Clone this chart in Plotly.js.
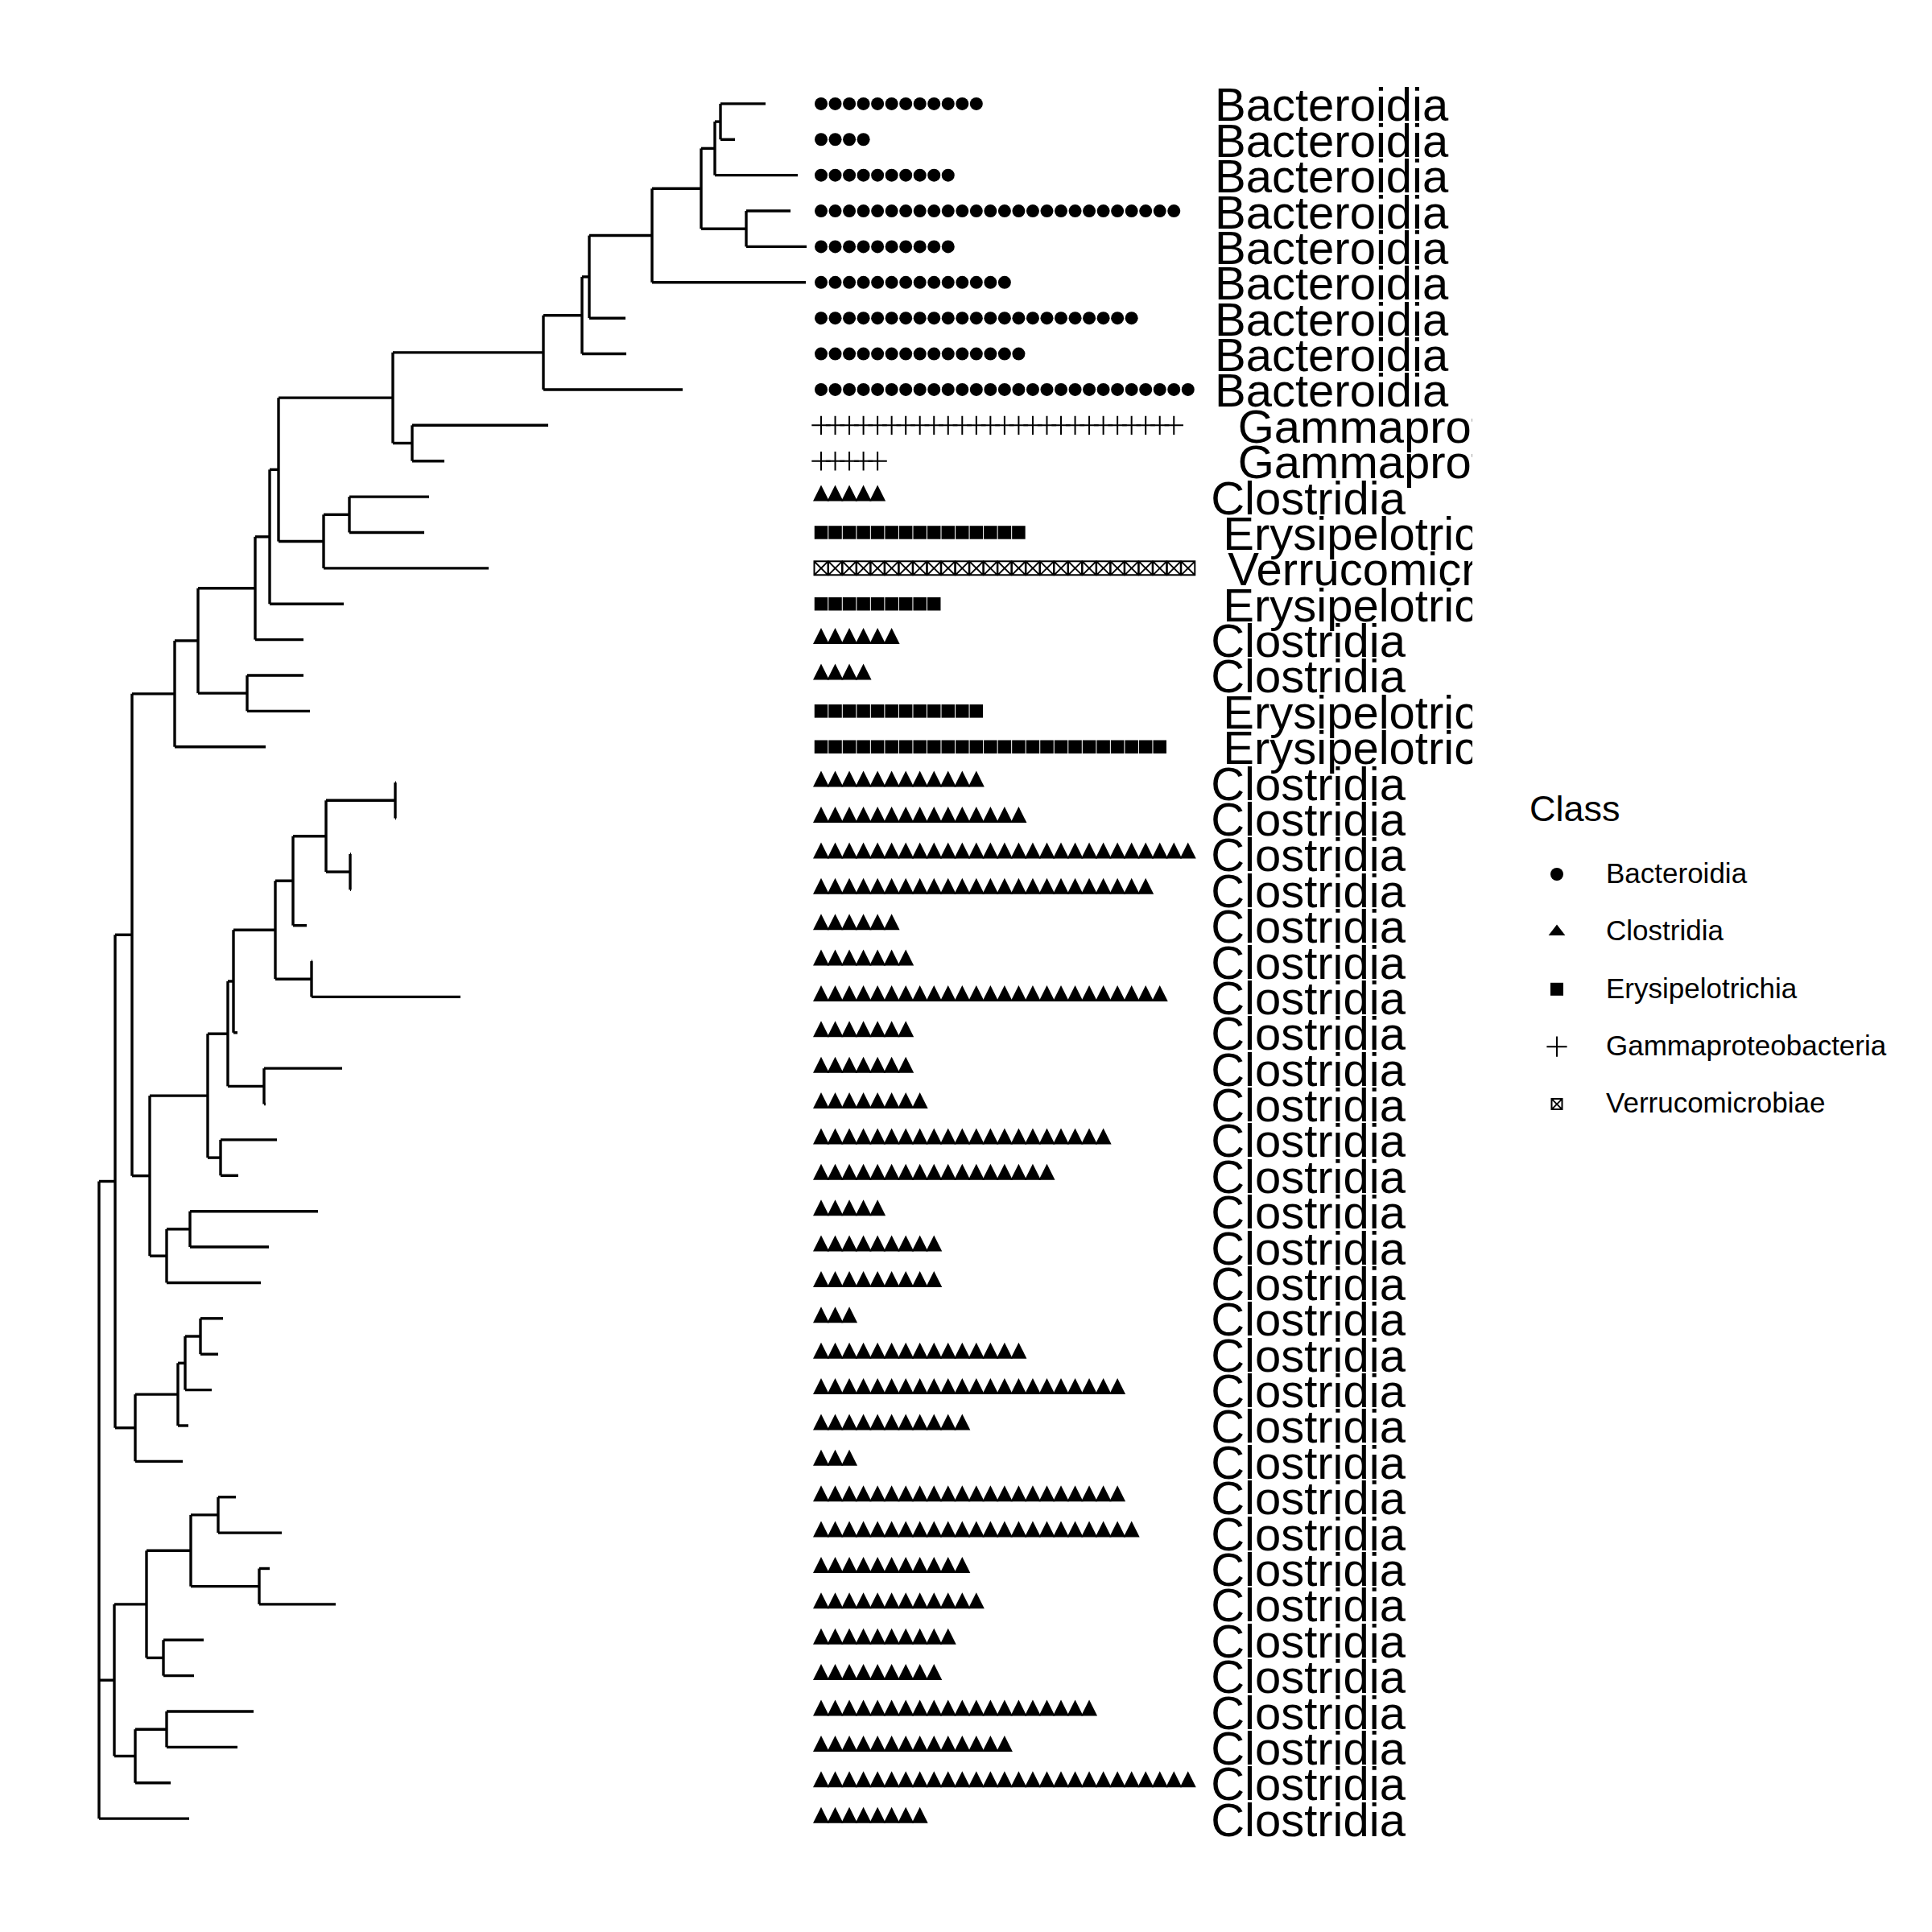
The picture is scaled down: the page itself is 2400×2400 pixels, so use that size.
<!DOCTYPE html>
<html><head><meta charset="utf-8">
<script src="https://cdn.plot.ly/plotly-3.0.1.min.js"></script>
<style>html,body{margin:0;padding:0;background:#fff}</style>
</head><body><div id="chart" style="width:2400px;height:2400px"></div>
<script>
// ---------------- DATA ----------------
// Phylogenetic tree as an edge list (parent, child, branch length)
const edgeParent = ["root","root","root","AK","AK","AF","AF","Q","Q","P","P","N","N","M","M","L","L","I","I","G","G","F","F","E","E","D","D","C","C","B","B","A","A","C2","C2","H","H","K","K","J","J","O","O","AE","AE","AB","AB","Y","Y","X","X","W","W","U","U","T","T","R","R","S","S","V","V","Z","Z","AA","AA","AD","AD","AC","AC","AJ","AJ","AI","AI","AH","AH","AG","AG","AS","AS","AP","AP","AN","AN","AL","AL","AM","AM","AO","AO","AR","AR","AQ","AQ"];
const edgeChild = ["AK","AS","t48","AF","AJ","Q","AE","P","t18","N","O","M","t15","L","t14","I","K","G","H","F","t08","E","t07","D","t06","C","t05","B","C2","A","t02","t00","t01","t03","t04","t09","t10","J","t13","t11","t12","t16","t17","AB","AD","Y","AA","X","Z","W","t26","U","V","T","t23","R","S","t19","t20","t21","t22","t24","t25","t27","t28","t29","t30","AC","t33","t31","t32","AI","t38","AH","t37","AG","t36","t34","t35","AP","AR","AN","AO","AL","AM","t39","t40","t41","t42","t43","t44","AQ","t47","t45","t46"];
const edgeLength = [0.20,0.19,1.12, 0.21,0.25, 0.53,0.22, 0.29,1.13, 0.71,0.61, 0.18,0.60, 0.11,0.92, 1.42,0.56, 1.87,0.24, 0.48,1.73, 0.09,0.55, 0.78,0.45, 0.61,1.91, 0.17,0.56, 0.07,1.03, 0.56,0.18, 0.55,0.75, 1.69,0.40, 0.32,2.05, 0.99,0.93, 0.70,0.78, 0.72,0.21, 0.25,0.16, 0.07,0.45, 0.52,0.05, 0.22,0.45, 0.41,0.17, 0.86,0.30, 0.01,0.01, 0.01,0.01, 0.01,1.85, 0.97,0.02, 0.70,0.22, 0.29,1.17, 1.59,0.98, 0.53,0.59, 0.09,0.13, 0.19,0.33, 0.28,0.22, 0.40,0.26, 0.55,0.21, 0.34,0.85, 0.22,0.79, 0.13,0.95, 0.50,0.38, 0.39,0.44, 1.08,0.88];

// Tips t00..t48 (top to bottom): class and count
const tipClass = [
  "Bacteroidia","Bacteroidia","Bacteroidia","Bacteroidia","Bacteroidia","Bacteroidia","Bacteroidia","Bacteroidia","Bacteroidia",
  "Gammaproteobacteria","Gammaproteobacteria",
  "Clostridia","Erysipelotrichia","Verrucomicrobiae","Erysipelotrichia",
  "Clostridia","Clostridia","Erysipelotrichia","Erysipelotrichia",
  "Clostridia","Clostridia","Clostridia","Clostridia","Clostridia","Clostridia","Clostridia","Clostridia","Clostridia","Clostridia",
  "Clostridia","Clostridia","Clostridia","Clostridia","Clostridia","Clostridia","Clostridia","Clostridia","Clostridia","Clostridia",
  "Clostridia","Clostridia","Clostridia","Clostridia","Clostridia","Clostridia","Clostridia","Clostridia","Clostridia","Clostridia"];
const tipCount = [12,4,10,26,10,14,23,15,27, 26,5, 5,15,27,9, 6,4,12,25, 12,15,27,24, 6,7,25,7,7,8,21,17,5,9,9,3, 15,22,11,3,22,23,11,12,10,9,20,14,27,8];

const classNames = ["Bacteroidia","Clostridia","Erysipelotrichia","Gammaproteobacteria","Verrucomicrobiae"];

// ---------------- STYLES / LAYOUT CONSTANTS ----------------
const W = 2400, H = 2400;
const ROW0_PX = 128.9, ROW_PX = 44.38;          // row centres
const TREE_ROOT_PX = 123, TREE_UNIT_PX = 100, TREE_RIGHT_PX = 1008;
const DOT0_PX = 1020, DOT_STEP_PX = 17.53, DOT_RIGHT_PX = 1488;
const LAB_ANCHOR_PX = 1480, LAB_CLIP_PX = 1829, LAB_FONT = 58, LAB_SHIFT_PX = 7;
const FONT = '"Liberation Sans", Arial, Helvetica, sans-serif';

const dotStyle = {
  "Bacteroidia":        {symbol:"circle", size:16, lw:0, shift:0},
  "Clostridia":         {symbol:"arrow-up", size:20, lw:0, shift:14.5},
  "Erysipelotrichia":   {symbol:"square", size:16.5, lw:0, shift:0},
  "Gammaproteobacteria":{symbol:"cross-thin-open", size:16.7, lw:2, shift:0},
  "Verrucomicrobiae":   {symbol:"square-x-open", size:17, lw:2, shift:0}
};
const legendStyle = {
  "Bacteroidia":        {symbol:"circle", size:16, lw:0},
  "Clostridia":         {symbol:"triangle-up", size:18, lw:0},
  "Erysipelotrichia":   {symbol:"square", size:16, lw:0},
  "Gammaproteobacteria":{symbol:"cross-thin-open", size:18, lw:2},
  "Verrucomicrobiae":   {symbol:"square-x-open", size:13, lw:2}
};

// ---------------- TREE LAYOUT ----------------
const children = {}, blen = {};
edgeParent.forEach((p, i) => { (children[p] = children[p] || []).push(edgeChild[i]); blen[edgeChild[i]] = edgeLength[i]; });
const depth = {root: 0}, ypos = {}, tipOrder = [];
function walk(n) {
  const ch = children[n];
  if (!ch) { ypos[n] = tipOrder.length; tipOrder.push(n); return; }
  ch.forEach(c => { depth[c] = depth[n] + blen[c]; walk(c); });
  ypos[n] = ch.reduce((s, c) => s + ypos[c], 0) / ch.length;
}
walk("root");

const tx = [], ty = [];
edgeParent.forEach((p, i) => {
  const c = edgeChild[i];
  tx.push(depth[p], depth[c], null); ty.push(ypos[c], ypos[c], null);
});
Object.keys(children).forEach(n => {
  const ys = children[n].map(c => ypos[c]);
  tx.push(depth[n], depth[n], null); ty.push(Math.min(...ys), Math.max(...ys), null);
});

const traces = [];
traces.push({type:"scatter", mode:"lines", x:tx, y:ty, xaxis:"x", yaxis:"y",
  line:{color:"#000", width:3.4}, hoverinfo:"skip", cliponaxis:false});

// ---------------- DOT ROWS ----------------
const tipIndex = n => parseInt(n.slice(1), 10);
classNames.forEach(cls => {
  const st = dotStyle[cls];
  const xs = [], ys = [];
  tipOrder.forEach(n => {
    const k = tipIndex(n);
    if (tipClass[k] !== cls) return;
    for (let i = 0; i < tipCount[k]; i++) { xs.push(i); ys.push(ypos[n]); }
  });
  traces.push({type:"scatter", mode:"markers", x:xs, y:ys, xaxis:"x2", yaxis: st.shift ? "y2" : "y",
    cliponaxis:false, hoverinfo:"skip",
    marker:{symbol:st.symbol, size:st.size, color:"#000", line:{color:"#000", width:st.lw}}});
});

// ---------------- TIP LABELS (hjust = -0.1, clipped at panel edge) ----------------
const ctx = document.createElement("canvas").getContext("2d");
ctx.font = LAB_FONT + "px " + FONT;
classNames.forEach(cls => {
  const w = ctx.measureText(cls).width;
  const xs = [], ys = [], txt = [];
  tipOrder.forEach(n => {
    const k = tipIndex(n);
    if (tipClass[k] !== cls) return;
    xs.push(0.1 * w); ys.push(ypos[n]); txt.push(cls);
  });
  traces.push({type:"scatter", mode:"text", x:xs, y:ys, text:txt, xaxis:"x3", yaxis:"y4",
    textposition:"middle right", cliponaxis:true, hoverinfo:"skip",
    textfont:{family:FONT, size:LAB_FONT, color:"#000"}});
});

// ---------------- LEGEND (drawn in pixel space) ----------------
const LEG_SYM_X = 1934, LEG_TXT_X = 1995, LEG_Y0 = 1086, LEG_DY = 71.4;
classNames.forEach((cls, i) => {
  const st = legendStyle[cls];
  traces.push({type:"scatter", mode:"markers", x:[LEG_SYM_X], y:[LEG_Y0 + i*LEG_DY], xaxis:"x4", yaxis:"y3",
    cliponaxis:false, hoverinfo:"skip",
    marker:{symbol:st.symbol, size:st.size, color:"#000", line:{color:"#000", width:st.lw}}});
});
traces.push({type:"scatter", mode:"text", x:classNames.map(() => LEG_TXT_X),
  y:classNames.map((c, i) => LEG_Y0 + 2 + i*LEG_DY), text:classNames, xaxis:"x4", yaxis:"y3",
  textposition:"middle right", cliponaxis:false, hoverinfo:"skip",
  textfont:{family:FONT, size:35, color:"#000"}});
traces.push({type:"scatter", mode:"text", x:[1900], y:[1009], text:["Class"], xaxis:"x4", yaxis:"y3",
  textposition:"middle right", cliponaxis:false, hoverinfo:"skip",
  textfont:{family:FONT, size:45, color:"#000"}});

// ---------------- AXES ----------------
const hidden = {visible:false, showgrid:false, zeroline:false, fixedrange:true};
const yTop = -ROW0_PX / ROW_PX, yBot = (H - ROW0_PX) / ROW_PX;
const triShift = dotStyle["Clostridia"].shift / ROW_PX;
const labShift = LAB_SHIFT_PX / ROW_PX;

const layout = {
  width: W, height: H, margin:{l:0, r:0, t:0, b:0, pad:0},
  paper_bgcolor:"#fff", plot_bgcolor:"rgba(0,0,0,0)", showlegend:false,
  xaxis:  Object.assign({}, hidden, {domain:[0, TREE_RIGHT_PX/W], anchor:"y",
           range:[-TREE_ROOT_PX/TREE_UNIT_PX, (TREE_RIGHT_PX-TREE_ROOT_PX)/TREE_UNIT_PX]}),
  xaxis2: Object.assign({}, hidden, {domain:[TREE_RIGHT_PX/W, DOT_RIGHT_PX/W], anchor:"y",
           range:[(TREE_RIGHT_PX-DOT0_PX)/DOT_STEP_PX, (DOT_RIGHT_PX-DOT0_PX)/DOT_STEP_PX]}),
  xaxis3: Object.assign({}, hidden, {domain:[LAB_ANCHOR_PX/W, LAB_CLIP_PX/W], anchor:"y4",
           range:[0, LAB_CLIP_PX-LAB_ANCHOR_PX]}),
  xaxis4: Object.assign({}, hidden, {domain:[1880/W, 1], anchor:"y3", range:[1880, W]}),
  yaxis:  Object.assign({}, hidden, {domain:[0,1], anchor:"x", range:[yBot, yTop]}),
  yaxis2: Object.assign({}, hidden, {domain:[0,1], anchor:"x2", overlaying:"y",
           range:[yBot + triShift, yTop + triShift]}),
  yaxis3: Object.assign({}, hidden, {domain:[0,1], anchor:"x4", range:[H, 0]}),
  yaxis4: Object.assign({}, hidden, {domain:[0,1], anchor:"x3",
           range:[yBot - labShift, yTop - labShift]})
};

Plotly.newPlot("chart", traces, layout, {staticPlot:true, displayModeBar:false});
</script>
</body></html>
